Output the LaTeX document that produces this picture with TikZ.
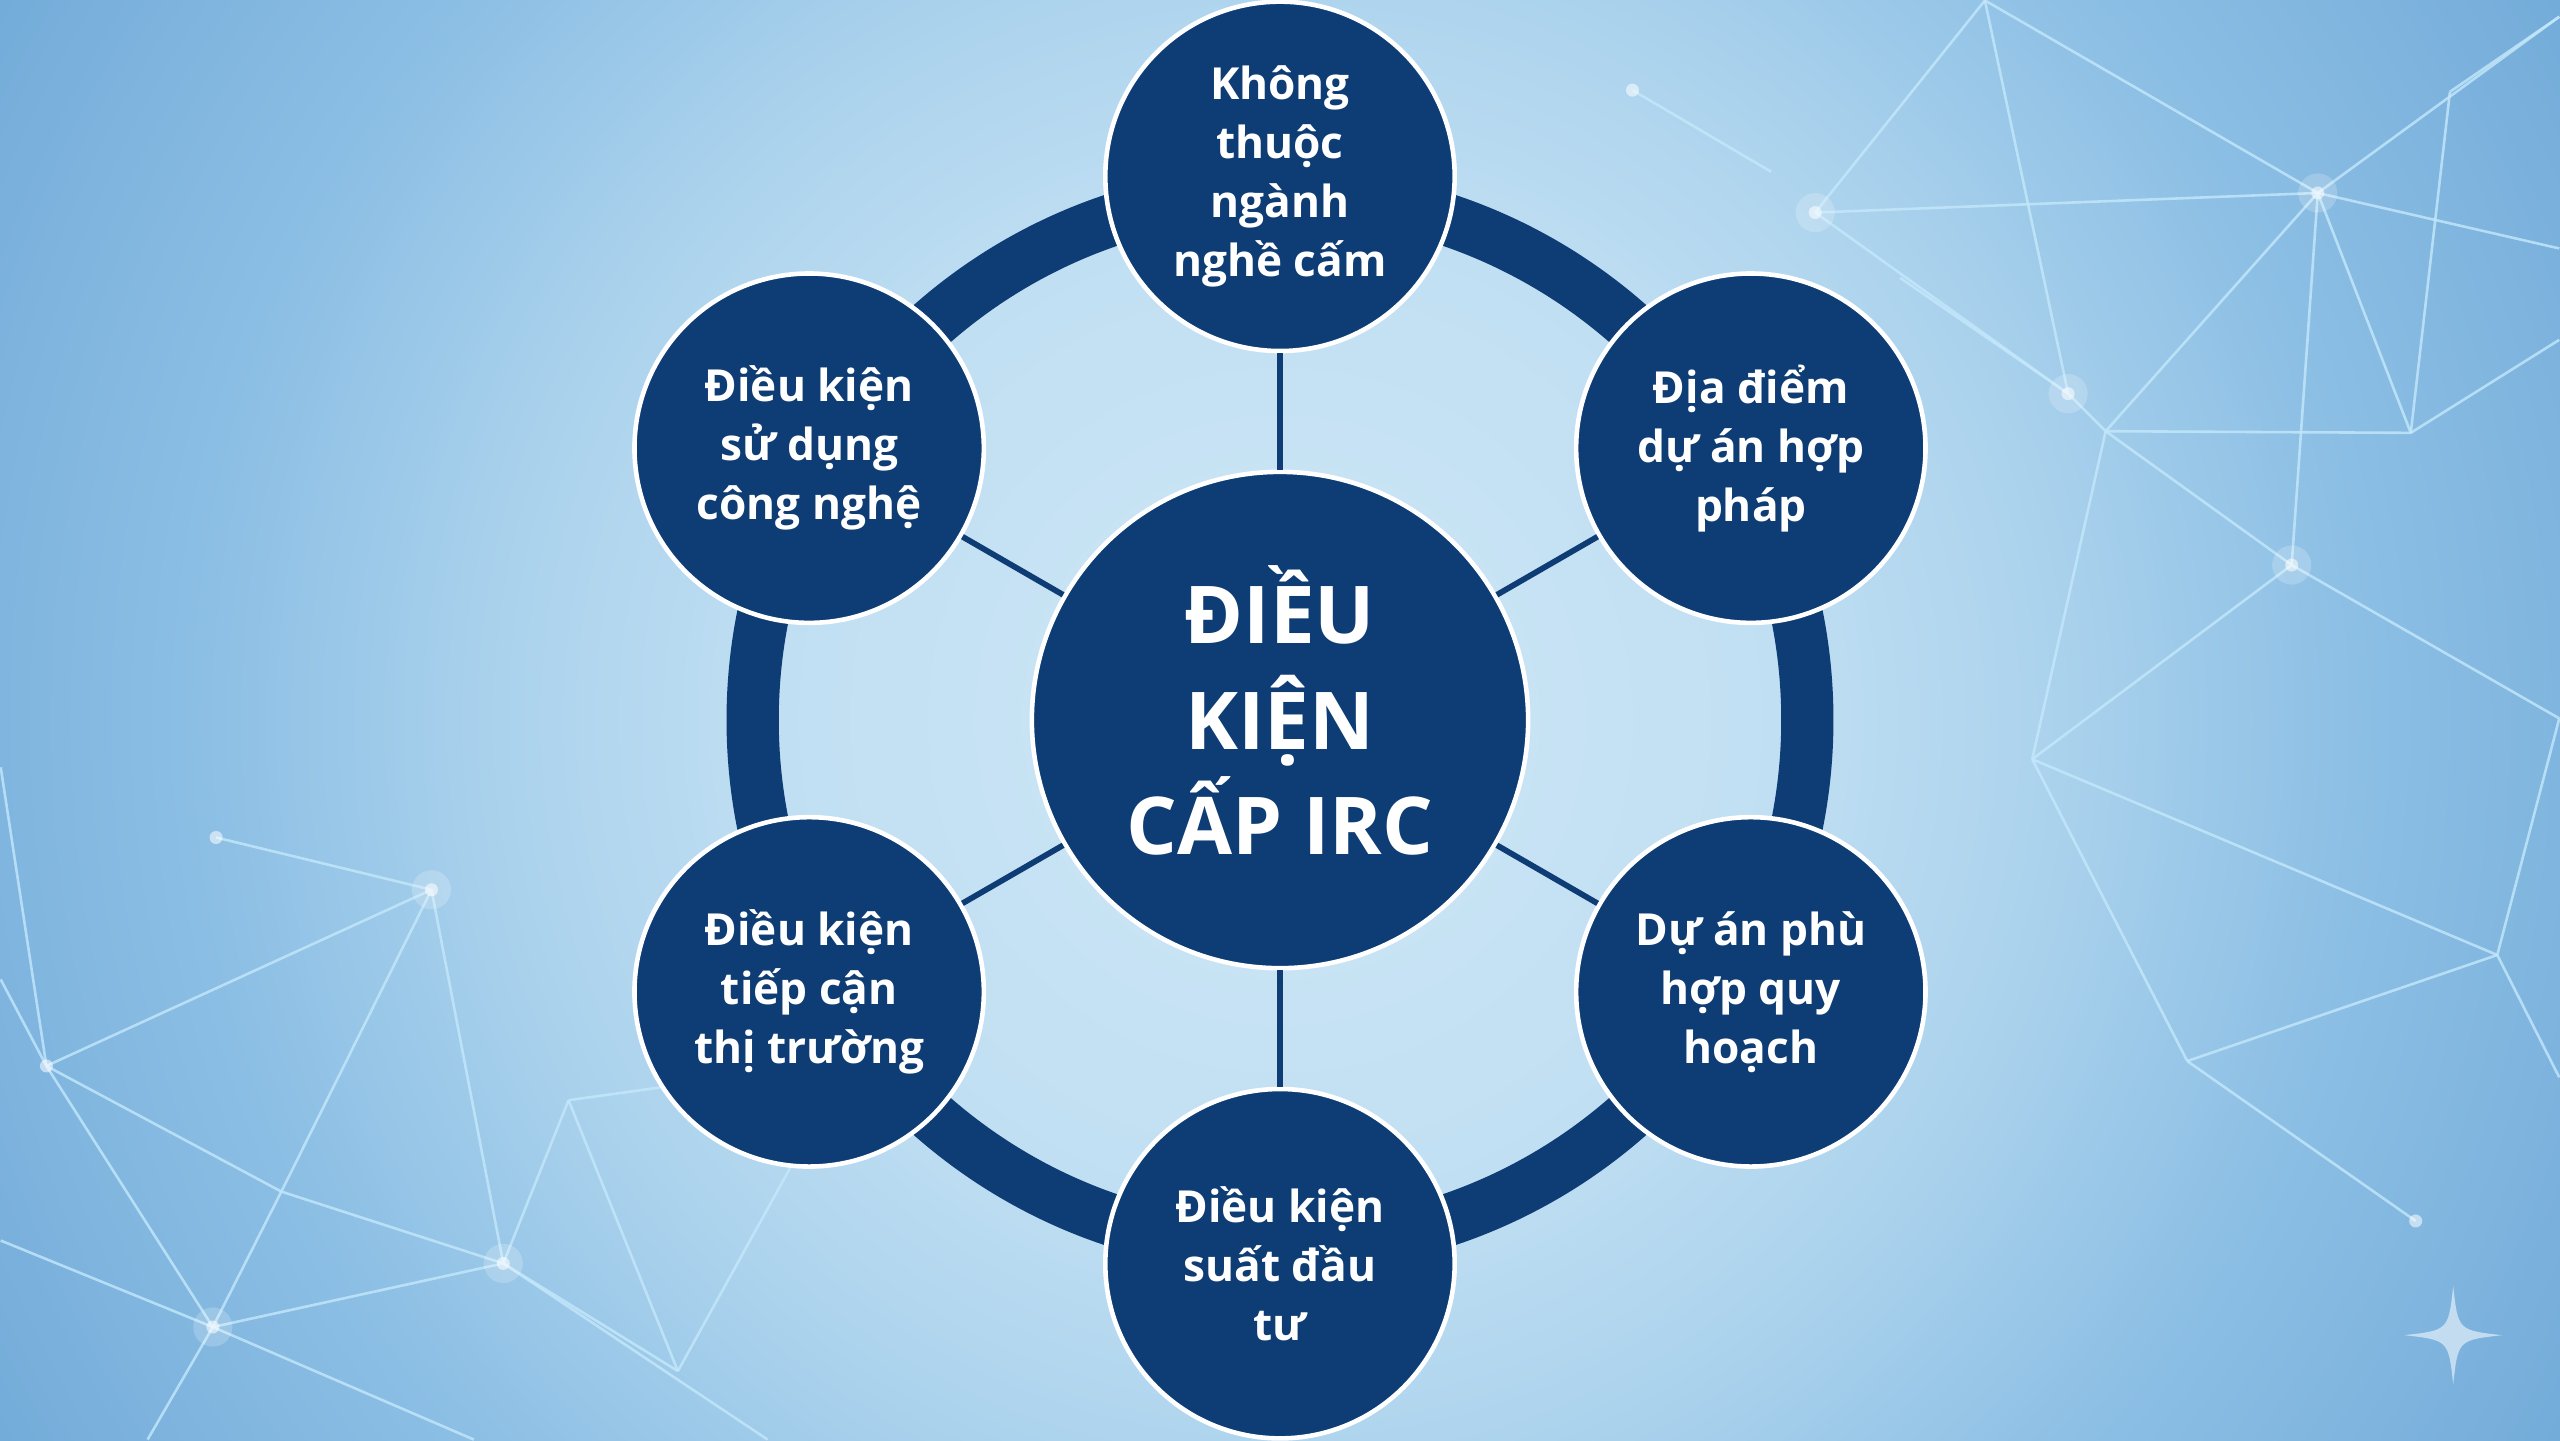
\documentclass[tikz,border=0pt]{standalone}
\usepackage{fontspec}
\setmainfont{Open Sans}
\usepackage{tikz}
\usepackage{xcolor}

\definecolor{navy}{HTML}{0E3C74}
\definecolor{netline}{HTML}{C4E8FB}
\pgfdeclareradialshading{bgglow}{\pgfpoint{0bp}{0bp}}{color(0bp)=(rgb,255:red,204;green,230;blue,246); color(8bp)=(rgb,255:red,194;green,224;blue,243); color(13bp)=(rgb,255:red,172;green,211;blue,237); color(18bp)=(rgb,255:red,142;green,192;blue,229); color(28bp)=(rgb,255:red,104;green,163;blue,212); color(34bp)=(rgb,255:red,84;green,146;blue,200); color(50bp)=(rgb,255:red,84;green,146;blue,200)}

\begin{document}
\begin{tikzpicture}[
  hub/.style={circle, draw=white, line width=0.8pt, fill=navy, minimum size=3.04cm, inner sep=0pt, text depth=0.12cm, align=center, text=white, font=\bfseries\fontsize{13.9}{18.4}\selectfont},
  sat/.style={circle, draw=white, line width=0.8pt, fill=navy, minimum size=2.14cm, inner sep=0pt, align=center, text=white, font=\bfseries\fontsize{7.7}{10.3}\selectfont},
  ring/.style={draw=navy, line width=0.32cm},
  spoke/.style={draw=navy, line width=1pt},
  net/.style={draw=netline, line width=0.45pt, opacity=0.8},
  glow/.style={fill=white, opacity=0.2},
]
\useasboundingbox (-7.84,-4.41) rectangle (7.84,4.41);
\begin{scope}
  \clip (-7.84,-4.41) rectangle (7.84,4.41);
  \shade[shading=bgglow] (0,0) circle (9);
\end{scope}

% background network, pixel coordinates
\begin{scope}[x=0.01cm, y=-0.01cm, shift={(-784,-441)}]
  \foreach \n/\p in {l1/{264,545}, l2/{28,653}, l3/{130,813}, l4/{308,774}, l5/{348,674},
      l6/{415,840}, l7/{172,730}, l8/{132,513}, l9/{0,470}, l10/{0,600}, l11/{90,882},
      l12/{290,882}, l13/{470,882}, l14/{520,650}, l15/{0,760},
      r1/{1112,130}, r2/{1420,118}, r3/{1267,241}, r4/{1290,264}, r5/{1404,346},
      r6/{1477,265}, r7/{1216,0}, r8/{1501,56}, r9/{1568,10}, r10/{1568,152},
      r11/{1568,208}, r12/{1245,465}, r13/{1530,585}, r14/{1340,650}, r15/{1480,748},
      r16/{1000,55}, r17/{1085,105}, r18/{1164,170}, r19/{1568,440}, r20/{1568,660}}
    \coordinate (\n) at (\p);
  \foreach \a/\b in {l1/l2, l1/l7, l7/l3, l1/l4, l1/l8, l2/l3, l2/l7, l7/l4, l3/l4, l4/l5,
      l4/l6, l5/l6, l3/l11, l3/l12, l4/l13, l6/l14, l9/l2, l15/l3, l10/l2, l5/l14,
      r16/r17, r7/r1, r1/r2, r1/r3, r7/r2, r2/r9, r2/r10, r2/r4, r2/r5, r2/r6, r7/r3,
      r3/r4, r18/r3, r4/r6, r4/r5, r4/r12, r5/r12, r6/r11, r6/r8, r8/r9, r5/r19,
      r12/r13, r12/r14, r13/r14, r13/r19, r14/r15, r13/r20}
    \draw[net] (\a) -- (\b);
  \foreach \n in {l1, l3, l4, r1, r2, r3, r5}
    \fill[glow] (\n) circle (12);
  \foreach \n in {l1, l2, l3, l4, l8, r1, r2, r3, r5, r15, r16}
    \fill[white, opacity=0.55] (\n) circle (4);
  \coordinate (gem) at (1503,818);
\end{scope}

\begin{scope}[shift={(gem)}]
  \fill[white, opacity=0.55] (0,0.3) .. controls (0.03,0.03) .. (0.3,0) .. controls (0.03,-0.03) .. (0,-0.3)
    .. controls (-0.03,-0.03) .. (-0.3,0) .. controls (-0.03,0.03) .. cycle;
\end{scope}

\draw[ring] (0,0) circle (3.23);

\node[hub] (hub) at (0,0) {ĐIỀU\\KIỆN\\CẤP IRC};

\node[sat] (banned) at (90:3.33) {Không\\thuộc\\ngành\\nghề cấm};
\node[sat] (site) at (30:3.33) {Địa điểm\\dự án hợp\\pháp};
\node[sat] (plan) at (-30:3.33) {Dự án phù\\hợp quy\\hoạch};
\node[sat] (invest) at (-90:3.33) {Điều kiện\\suất đầu\\tư};
\node[sat] (market) at (210:3.33) {Điều kiện\\tiếp cận\\thị trường};
\node[sat] (tech) at (150:3.33) {Điều kiện\\sử dụng\\công nghệ};

\foreach \s in {banned, site, plan, invest, market, tech}
  \draw[spoke] (hub) -- (\s);
\end{tikzpicture}
\end{document}
